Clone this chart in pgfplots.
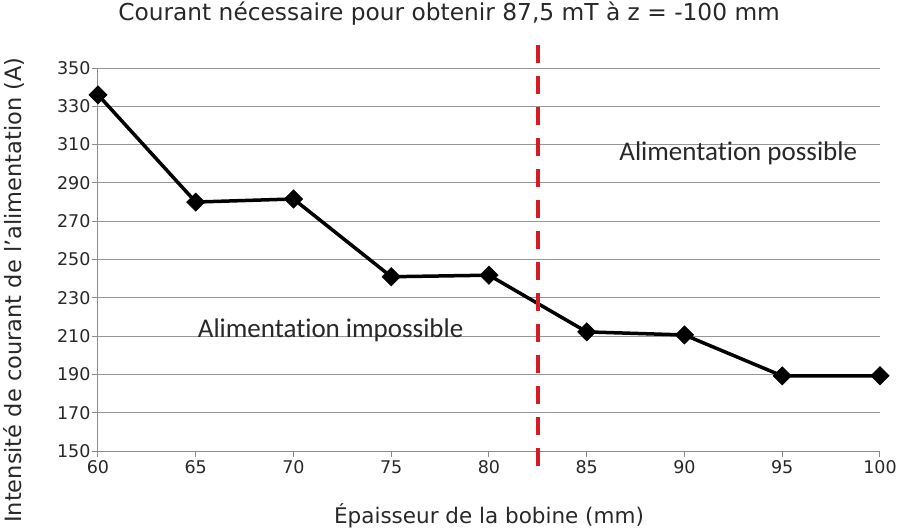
\documentclass[border=0pt]{standalone}
\usepackage{pgfplots}
\pgfplotsset{compat=1.18}
\usepackage{fontspec}
\setmainfont{DejaVu Sans}
\newfontfamily\annot{Carlito}[Ligatures=NoCommon]
\definecolor{gridgray}{RGB}{150,150,150}
\definecolor{axgray}{RGB}{140,140,140}
\definecolor{txt}{RGB}{40,40,40}
\definecolor{dred}{RGB}{212,28,36}
\begin{document}
\begin{tikzpicture}
\begin{axis}[
  at={(0,0)}, anchor=south west,
  scale only axis, width=782pt, height=383pt,
  xmin=60, xmax=100, ymin=150, ymax=350,
  xtick={60,65,...,100}, ytick={150,170,...,350},
  axis x line*=bottom, axis y line*=left,
  axis line style={axgray, line width=1pt, -},
  tick style={axgray, line width=1pt},
  tick align=outside, major tick length=6pt,
  ymajorgrids, grid style={gridgray, line width=1pt},
  tick label style={font=\fontsize{17.5}{20}\selectfont, text=txt},
  yticklabel style={xshift=2pt},
  /pgf/number format/assume math mode=true,
  clip=false,
  title={Courant nécessaire pour obtenir 87,5 mT à z = -100 mm},
  title style={font=\fontsize{23.3}{26}\selectfont, text=txt, at={(axis description cs:0.449,1)}, anchor=base, yshift=42pt},
  xlabel={Épaisseur de la bobine (mm)},
  xlabel style={font=\fontsize{21.5}{24}\selectfont, text=txt, at={(axis description cs:0.5,0)}, anchor=base, yshift=-72pt},
  ylabel={Intensité de courant de l'alimentation (A)},
  ylabel style={font=\fontsize{22.5}{26}\selectfont, text=txt, at={(axis description cs:-0.108,0.42)}, anchor=center, rotate=0},
]
\addplot[black, line width=3.5pt, mark=square*, mark size=6.5pt, mark options={fill=black, rotate=45, line width=0.5pt}] coordinates {
(60,336) (65,280) (70,281.6) (75,241) (80,241.8) (85,212.2) (90,210.6) (95,189.2) (100,189.3)
};
\addplot[dred, line width=4pt, dash pattern=on 18pt off 13pt] coordinates {(82.5,362) (82.5,141)};
\node[font=\annot\fontsize{27}{30}\selectfont, text=txt] at (axis cs:71.9,213) {Alimentat\kern0pt ion impossible};
\node[font=\annot\fontsize{27}{30}\selectfont, text=txt] at (axis cs:92.75,305.7) {Alimentat\kern0pt ion possible};
\end{axis}
\pgfresetboundingbox
\useasboundingbox (-98pt,-80pt) rectangle (800pt,451pt);
\end{tikzpicture}
\end{document}
